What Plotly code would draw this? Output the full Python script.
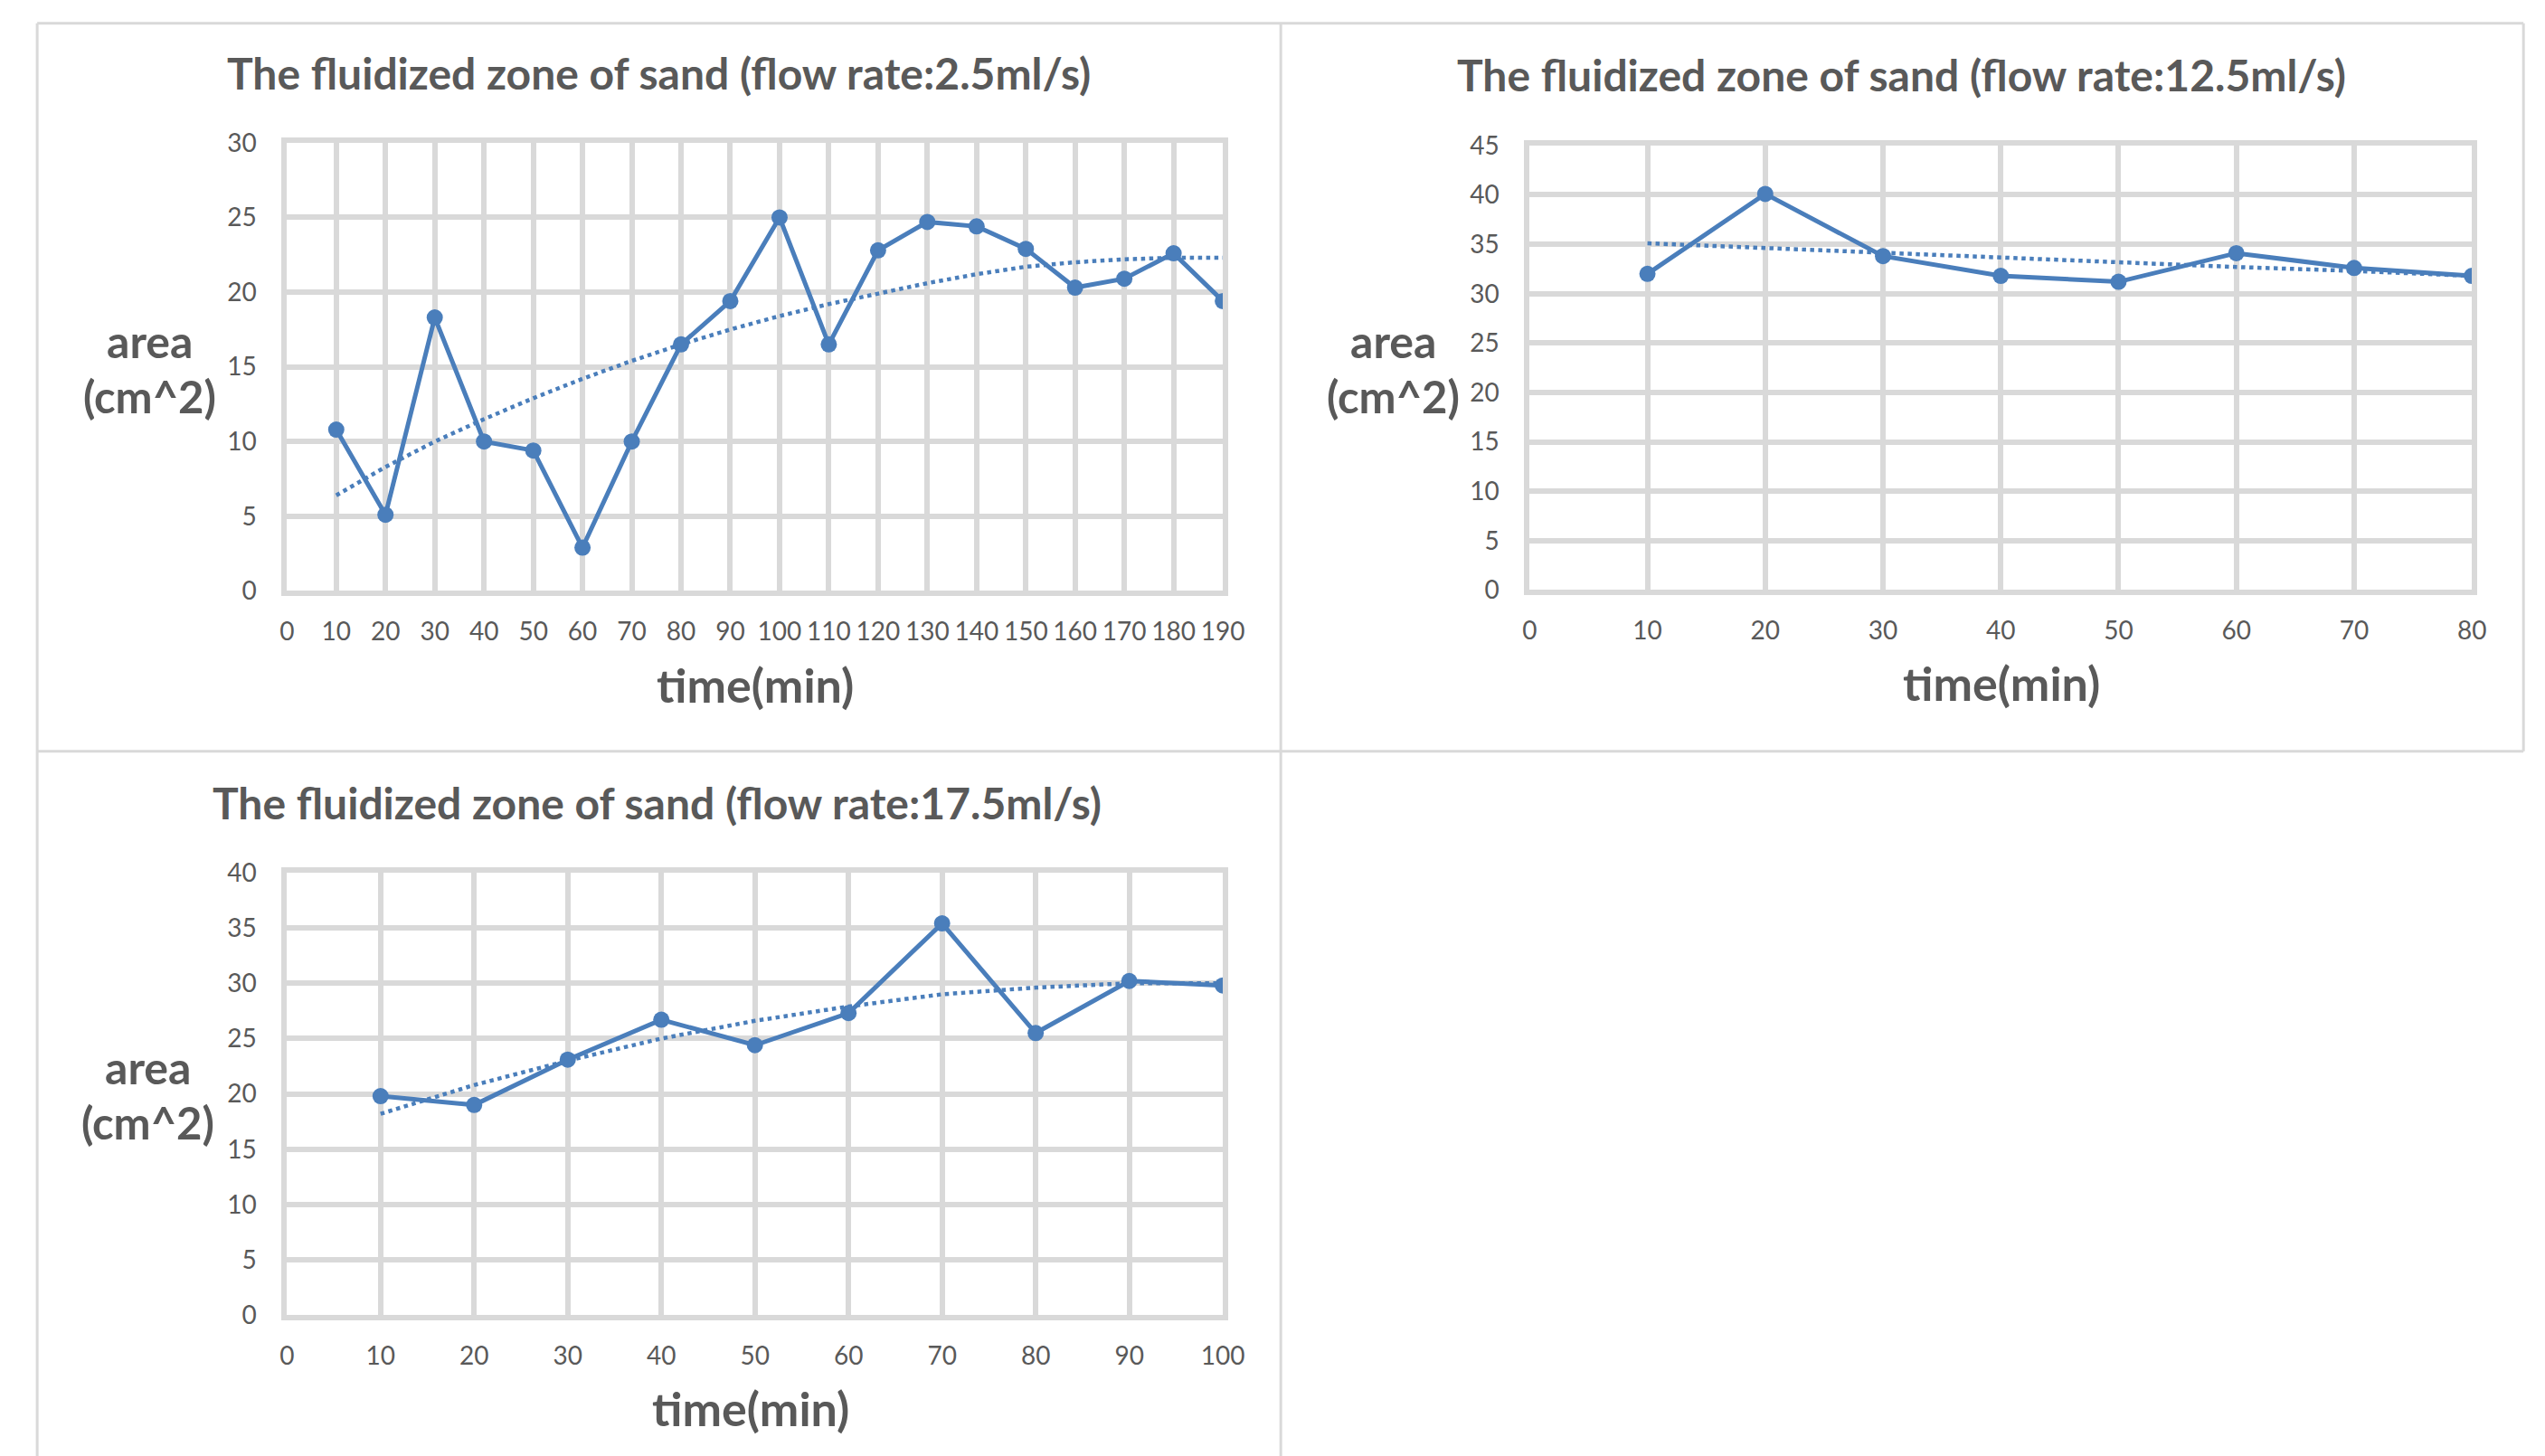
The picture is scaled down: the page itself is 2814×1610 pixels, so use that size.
import plotly.graph_objects as go

# ---------------- data ----------------
t1 = [10, 20, 30, 40, 50, 60, 70, 80, 90, 100, 110, 120, 130, 140, 150, 160, 170, 180, 190]
a1 = [10.8, 5.1, 18.3, 10.0, 9.4, 2.9, 10.0, 16.5, 19.4, 25.0, 16.5, 22.8, 24.7, 24.4, 22.9, 20.3, 20.9, 22.6, 19.4]
trend1 = [6.4, 8.3, 10.0, 11.5, 12.9, 14.2, 15.4, 16.5, 17.5, 18.4, 19.2, 19.9, 20.6, 21.2, 21.7, 22.0, 22.2, 22.3, 22.3]

t2 = [10, 20, 30, 40, 50, 60, 70, 80]
a2 = [32.0, 40.1, 33.8, 31.8, 31.2, 34.1, 32.6, 31.8]
trend2 = [35.1, 34.6, 34.2, 33.7, 33.2, 32.7, 32.3, 31.8]

t3 = [10, 20, 30, 40, 50, 60, 70, 80, 90, 100]
a3 = [19.8, 19.0, 23.1, 26.7, 24.4, 27.3, 35.4, 25.5, 30.2, 29.8]
trend3 = [18.2, 20.8, 23.0, 25.0, 26.6, 27.9, 29.0, 29.6, 30.0, 30.0]

titles = ["The fluidized zone of sand (flow rate:2.5ml/s)",
          "The fluidized zone of sand (flow rate:12.5ml/s)",
          "The fluidized zone of sand (flow rate:17.5ml/s)"]
xmax = [190, 80, 100]
ymax = [30, 45, 40]
x_title = "time(min)"
y_title1 = "area"
y_title2 = "(cm^2)"

# ---------------- style ----------------
OX, OY = 8, 8            # page offset of the figure
FW, FH = 2842, 1632      # figure size
SX, SY, DY = 0.988, 0.978, 9.5   # page -> picture mapping observed
FS = 1 / 0.983           # font compensation
BLUE = "#4a7ebb"
GRID = "#d9d9d9"
TXT = "#595959"
FONT = "Lato"

def px(x):
    return (x / SX - OX) / FW

def py(y):
    return 1 - ((y - DY) / SY - OY) / FH

# plot-area boxes in picture pixels (left, right, top, bottom)
boxes = [(317, 1351, 157, 652), (1690, 2731, 160, 651), (317, 1351, 963, 1452)]

fig = go.Figure()
series = [(t1, a1, trend1), (t2, a2, trend2), (t3, a3, trend3)]
for i, (t, a, tr) in enumerate(series):
    xa = "x" if i == 0 else f"x{i+1}"
    ya = "y" if i == 0 else f"y{i+1}"
    fig.add_trace(go.Scatter(x=t, y=tr, mode="lines", xaxis=xa, yaxis=ya,
                             line=dict(color=BLUE, width=4.5, dash="dot"),
                             showlegend=False, hoverinfo="skip"))
    fig.add_trace(go.Scatter(x=t, y=a, mode="lines+markers", xaxis=xa, yaxis=ya,
                             line=dict(color=BLUE, width=5),
                             marker=dict(color=BLUE, size=18),
                             showlegend=False))

layout = dict(width=FW, height=FH, margin=dict(l=0, r=0, t=0, b=0),
              paper_bgcolor="white", plot_bgcolor="white",
              font=dict(family=FONT, color=TXT))

for i, (l, r, tp, b) in enumerate(boxes):
    sx = "xaxis" if i == 0 else f"xaxis{i+1}"
    sy = "yaxis" if i == 0 else f"yaxis{i+1}"
    ax_x = "x" if i == 0 else f"x{i+1}"
    ax_y = "y" if i == 0 else f"y{i+1}"
    layout[sx] = dict(domain=[px(l), px(r)], anchor=ax_y, range=[0, xmax[i]],
                      dtick=10, tick0=0, showgrid=True, gridcolor=GRID, gridwidth=6,
                      zeroline=False, showline=True, mirror=True, linecolor=GRID, linewidth=6,
                      ticks="", ticklabelstandoff=15,
                      tickfont=dict(family=FONT, size=round(28 * FS), color=TXT))
    layout[sy] = dict(domain=[py(b), py(tp)], anchor=ax_x, range=[0, ymax[i]],
                      dtick=5, tick0=0, showgrid=True, gridcolor=GRID, gridwidth=6,
                      zeroline=False, showline=True, mirror=True, linecolor=GRID, linewidth=6,
                      ticks="", ticklabelstandoff=22,
                      tickfont=dict(family=FONT, size=round(28 * FS), color=TXT))

fig.update_layout(**layout)

ann = []
title_pos = [(728, 80), (2101, 82), (726, 886)]
for i, (x, y) in enumerate(title_pos):
    ann.append(dict(x=px(x), y=py(y), xref="paper", yref="paper", text=f"<b>{titles[i]}</b>",
                    showarrow=False, xanchor="center", yanchor="middle",
                    font=dict(family=FONT, size=round(47 * FS), color=TXT)))
xt_pos = [(834, 755), (2211, 753), (829, 1554)]
for x, y in xt_pos:
    ann.append(dict(x=px(x), y=py(y), xref="paper", yref="paper", text=f"<b>{x_title}</b>",
                    showarrow=False, xanchor="center", yanchor="middle",
                    font=dict(family=FONT, size=round(51 * FS), color=TXT)))
yt_pos = [(165, 376, 437), (1539, 376, 437), (163, 1178, 1239)]
for x, y1, y2 in yt_pos:
    ann.append(dict(x=px(x), y=py(y1), xref="paper", yref="paper", text=f"<b>{y_title1}</b>",
                    showarrow=False, xanchor="center", yanchor="middle",
                    font=dict(family=FONT, size=round(49 * FS), color=TXT)))
    ann.append(dict(x=px(x), y=py(y2), xref="paper", yref="paper", text=f"<b>{y_title2}</b>",
                    showarrow=False, xanchor="center", yanchor="middle",
                    font=dict(family=FONT, size=round(48 * FS), color=TXT)))

shapes = []
BORDER = "#d9d9d9"
for (x0, y0, x1, y1) in [(41, 25, 2788, 25), (41, 829, 2788, 829), (41, 25, 41, 1610),
                         (1415, 25, 1415, 1610), (2788, 25, 2788, 829)]:
    shapes.append(dict(type="line", xref="paper", yref="paper",
                       x0=px(x0), y0=py(y0), x1=px(x1), y1=max(py(y1), 0),
                       line=dict(color=BORDER, width=3)))

fig.update_layout(annotations=ann, shapes=shapes)
fig.write_html("out.html")
